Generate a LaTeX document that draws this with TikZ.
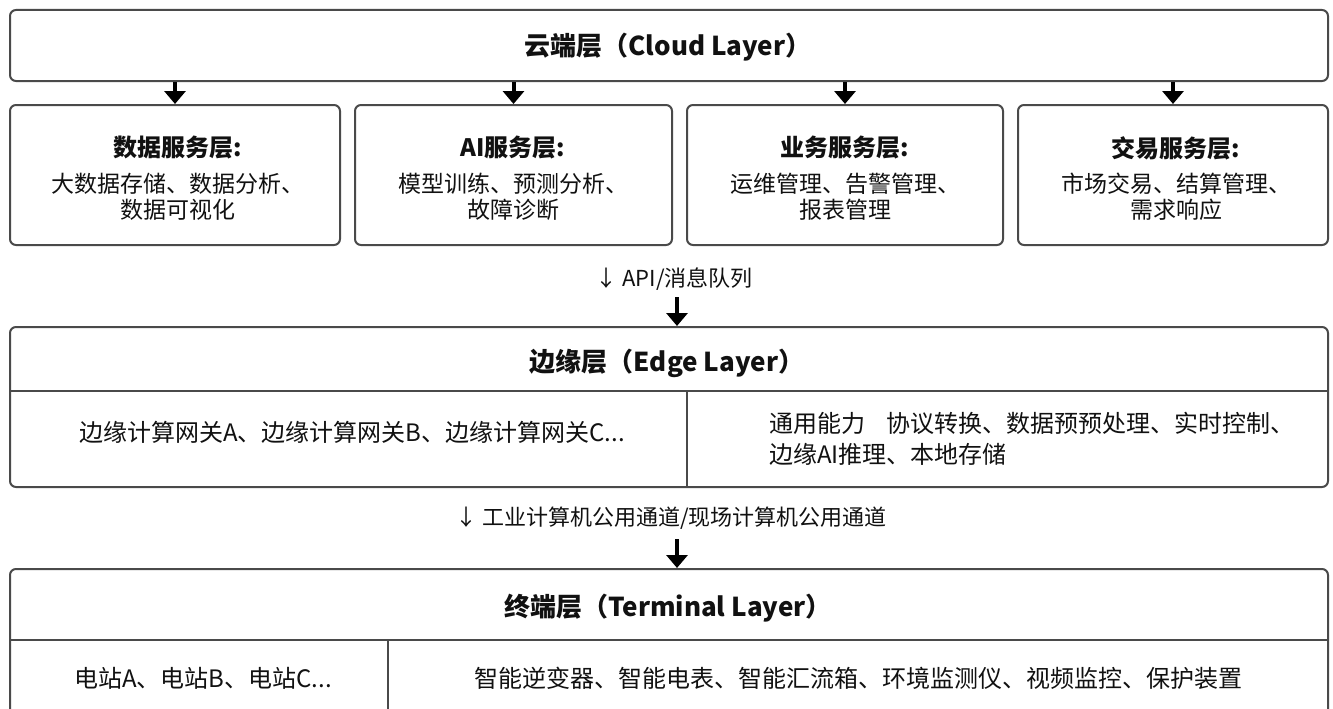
\documentclass[tikz,border=0pt]{standalone}
\usepackage{fontspec}
\setmainfont{Noto Sans CJK SC}
\usetikzlibrary{arrows.meta}
\definecolor{txt}{HTML}{111111}
\definecolor{bord}{HTML}{4A4A4A}
\begin{document}
\begin{tikzpicture}[x=1pt,y=-1pt,
  box/.style={draw=bord,line width=2pt,rounded corners=6pt,fill=white,inner sep=0pt},
  ttl/.style={font=\fontsize{26}{30}\selectfont\bfseries,text=txt,inner sep=0pt},
  sttl/.style={font=\fontsize{24}{28}\selectfont\bfseries,text=txt,inner sep=0pt},
  body/.style={font=\fontsize{23}{26}\selectfont,text=txt,align=center,inner sep=0pt},
  big/.style={font=\fontsize{24}{24}\selectfont,text=txt,inner sep=0pt},
  lbl/.style={font=\fontsize{22}{24}\selectfont,text=txt,inner sep=0pt},
  arr/.style={draw=black,line width=4pt,-{Triangle[width=21pt,length=13pt]}},
  divl/.style={draw=bord,line width=2pt}]
\useasboundingbox (0,0) rectangle (1333,709);
\fill[white] (0,0) rectangle (1333,709);

% Cloud layer
\node[box,minimum width=1318pt,minimum height=71pt] (cloud) at (669,45.5) {};
\node[ttl] (cloudt) at (668,47) {云端层（Cloud Layer）};

% service boxes
\node[box,minimum width=330pt,minimum height=140pt] (s1) at (175,175) {};
\node[box,minimum width=317pt,minimum height=140pt] (s2) at (513.5,175) {};
\node[box,minimum width=316pt,minimum height=140pt] (s3) at (845,175) {};
\node[box,minimum width=310pt,minimum height=140pt] (s4) at (1173,175) {};

\node[sttl] (s1t) at (178,148) {数据服务层:};
\node[body] (s1b) at (178,197) {大数据存储、数据分析、\\数据可视化};
\node[sttl] (s2t) at (513,148) {AI服务层:};
\node[body] (s2b) at (513,197) {模型训练、预测分析、\\故障诊断};
\node[sttl] (s3t) at (845,148) {业务服务层:};
\node[body] (s3b) at (845,197) {运维管理、告警管理、\\报表管理};
\node[sttl] (s4t) at (1176,148) {交易服务层:};
\node[body] (s4b) at (1176,197) {市场交易、结算管理、\\需求响应};

\foreach \s in {s1,s2,s3,s4}
  \draw[arr] (cloud.south -| \s.north) -- (\s.north);

% API arrow
\node[lbl] (apil) at (674,279) {↓ API/消息队列};
\coordinate (apis) at (677,297);

% Edge layer
\node[box,minimum width=1318pt,minimum height=160pt] (edge) at (669,407) {};
\draw[arr] (apis) -- (edge.north -| apis);
\node[ttl] (edget) at (667,363) {边缘层（Edge Layer）};
\draw[divl] (edge.west |- 0,391) -- (edge.east |- 0,391);
\draw[divl] (687,391) -- (687,487);
\node[big] (egw) at (352,432) {边缘计算网关A、边缘计算网关B、边缘计算网关C...};
\node[big,anchor=west,align=left,font=\fontsize{24}{31}\selectfont] (ecap) at (769,439)
  {通用能力\hspace{0.9em}协议转换、数据预预处理、实时控制、\\边缘AI推理、本地存储};

% channel arrow
\node[lbl] (chl) at (671,518) {↓ 工业计算机公用通道/现场计算机公用通道};
\coordinate (chs) at (677,539);

% Terminal layer
\node[box,minimum width=1318pt,minimum height=200pt] (term) at (669,669) {};
\draw[arr] (chs) -- (term.north -| chs);
\node[ttl] (termt) at (668,608) {终端层（Terminal Layer）};
\draw[divl] (term.west |- 0,640) -- (term.east |- 0,640);
\draw[divl] (388,640) -- (388,720);
\node[big] (tst) at (203,678) {电站A、电站B、电站C...};
\node[big] (tdev) at (858,678) {智能逆变器、智能电表、智能汇流箱、环境监测仪、视频监控、保护装置};
\end{tikzpicture}
\end{document}
